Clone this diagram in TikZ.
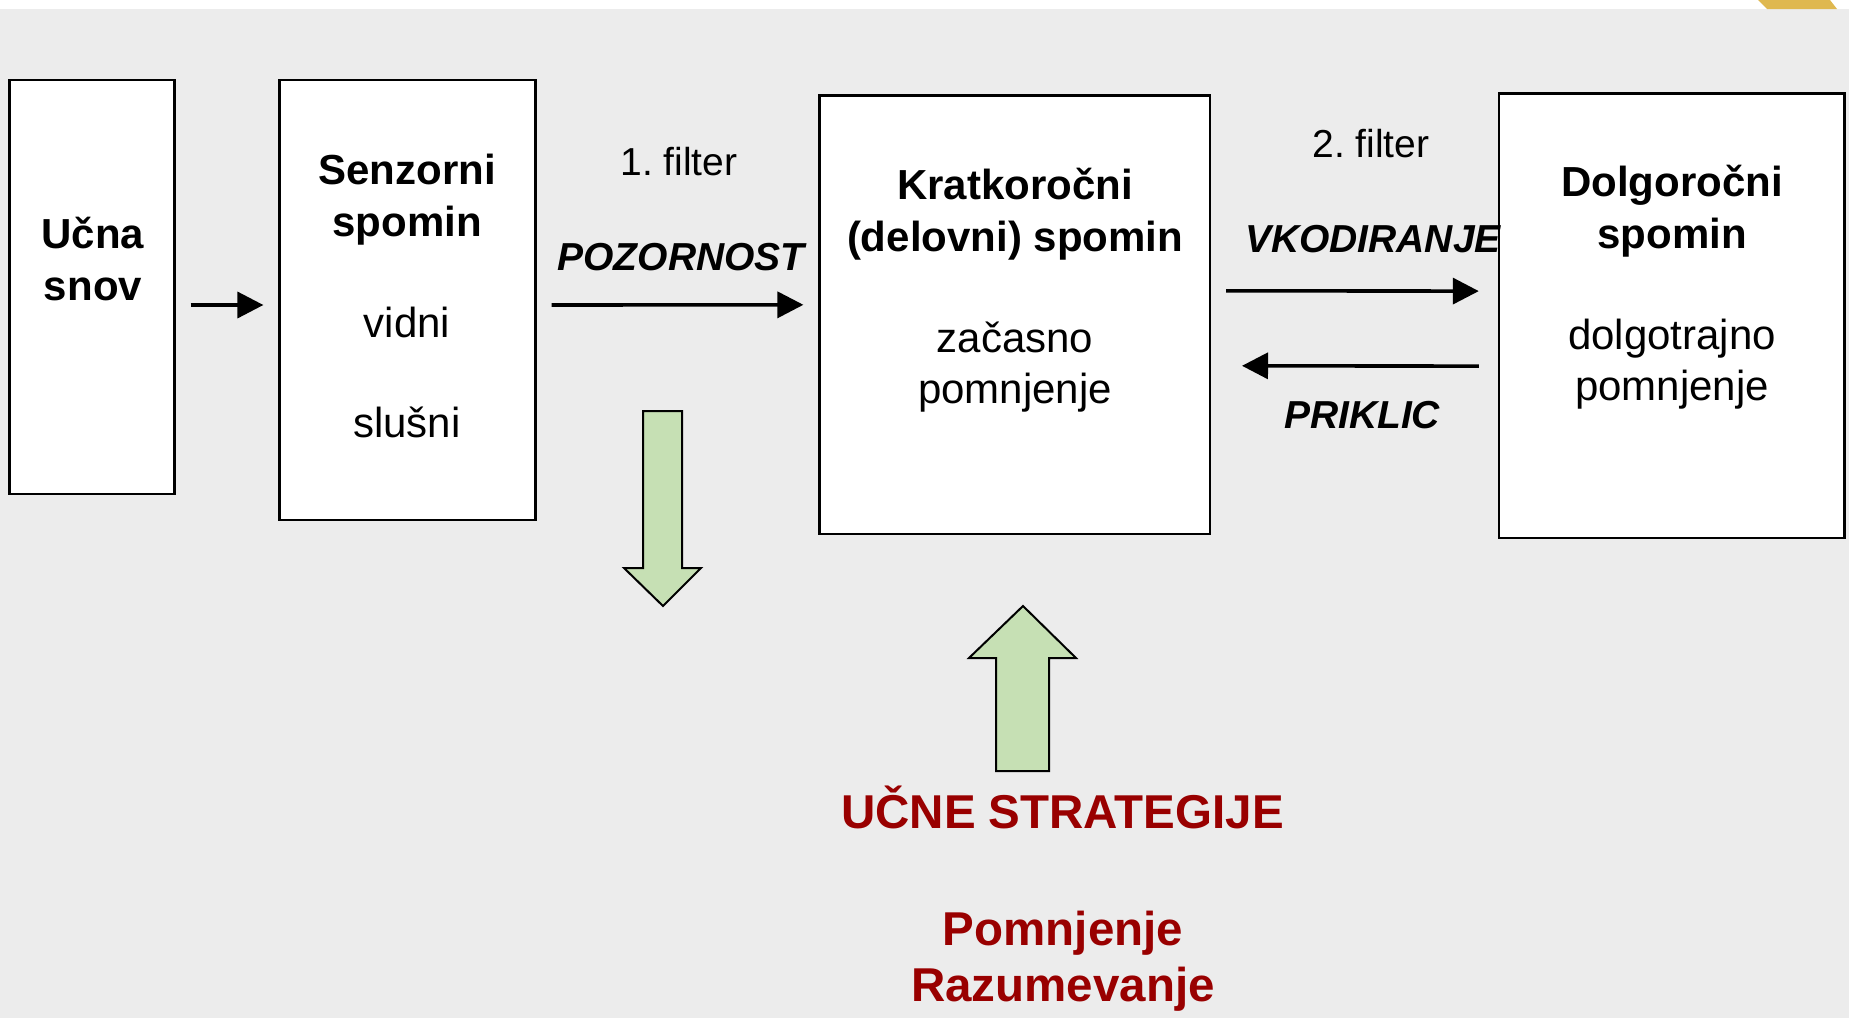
\documentclass[tikz,border=0pt]{standalone}
\usepackage{fontspec}
\setmainfont{Liberation Sans}
\usetikzlibrary{arrows.meta}
\frenchspacing

\definecolor{bggray}{HTML}{ECECEC}
\definecolor{stratgreen}{HTML}{C6E0B4}
\definecolor{stratred}{HTML}{990000}
\definecolor{accentgold}{HTML}{DFB84F}

\tikzset{
  memorybox/.style={draw=black, line width=1.1pt, fill=white, inner sep=0pt},
  boxtitle/.style={font=\fontsize{21}{26}\selectfont\bfseries, align=center, anchor=base, inner sep=0pt},
  boxbody/.style={font=\fontsize{21}{25.5}\selectfont, align=center, anchor=base, inner sep=0pt},
  filterlbl/.style={font=\fontsize{19.5}{22}\selectfont, anchor=base, inner sep=0pt},
  processlbl/.style={font=\fontsize{19.5}{22}\selectfont\bfseries\itshape, anchor=base, inner sep=0pt},
  flow/.style={line width=1.8pt, -{Triangle[length=13pt,width=13pt]}},
  bigarrow/.style={draw=black, line width=1pt, fill=stratgreen, line join=miter},
  strattext/.style={font=\fontsize{23.75}{28}\selectfont\bfseries, text=stratred, align=center, anchor=base, inner sep=0pt},
}

\begin{document}
\begin{tikzpicture}[x=0.5pt, y=-0.5pt]

    % background
    \fill[white] (0,0) rectangle (1849,1018);
    \fill[bggray] (0,9) rectangle (1849,1018);
    \fill[accentgold] (1758,0) -- (1830,0) -- (1837,9) -- (1767,9) -- cycle;
    \useasboundingbox (0,0) rectangle (1849,1018);

    % memory boxes
    \node[memorybox, minimum width=82.5pt, minimum height=207pt] (ucna) at (92,287) {};
    \node[memorybox, minimum width=128pt, minimum height=220pt] (sens) at (407.5,300) {};
    \node[memorybox, minimum width=195.2pt, minimum height=219.3pt] (krat) at (1014.7,314.8) {};
    \node[memorybox, minimum width=172.8pt, minimum height=222.2pt] (dolg) at (1671.7,315.6) {};

    % box texts (base = last line)
    \node[boxtitle] (ucnaT) at (93,300) {Učna\\snov};
    \node[boxtitle] (sensT) at (407,236) {Senzorni\\spomin};
    \node[boxbody] (sensV) at (407,337) {vidni};
    \node[boxbody] (sensS) at (407,437) {slušni};
    \node[boxtitle] (kratT) at (1015,251) {Kratkoročni\\(delovni) spomin};
    \node[boxbody] (kratB) at (1015,403) {začasno\\pomnjenje};
    \node[boxtitle] (dolgT) at (1672,248) {Dolgoročni\\spomin};
    \node[boxbody] (dolgB) at (1672,400.5) {dolgotrajno\\pomnjenje};

    % flow arrows
    \draw[flow] ([shift={(15,18)}]ucna.east) -- ([shift={(-15,5)}]sens.west);
    \draw[flow] ([shift={(15,5)}]sens.east) -- ([shift={(-15,-10)}]krat.west);
    \draw[flow] ([shift={(15,-24)}]krat.east) -- ([shift={(-19,-24.5)}]dolg.west);
    \draw[flow] ([shift={(-19,50.5)}]dolg.west) -- ([shift={(31,51)}]krat.east);

    % arrow labels
    \node[filterlbl] (filterA) at (679,175) {1. filter};
    \node[processlbl] (pozor) at (681,270) {POZORNOST};
    \node[filterlbl] (filterB) at (1371,157) {2. filter};
    \node[processlbl] (vkod) at (1373,252) {VKODIRANJE};
    \node[processlbl] (priklic) at (1362,428) {PRIKLIC};

    % green arrows
    \draw[bigarrow] (643,411) -- (682,411) -- (682,568) -- (701,568) -- (663,606) -- (624,568) -- (643,568) -- cycle;
    \draw[bigarrow] (996,771) -- (1049,771) -- (1049,658) -- (1076,658) -- (1023,606) -- (969,658) -- (996,658) -- cycle;

    % strategies
    \node[strattext] (strat) at (1062.5,828) {UČNE STRATEGIJE};
    \node[strattext] (goals) at (1063,1001) {Pomnjenje\\Razumevanje};

\end{tikzpicture}
\end{document}
